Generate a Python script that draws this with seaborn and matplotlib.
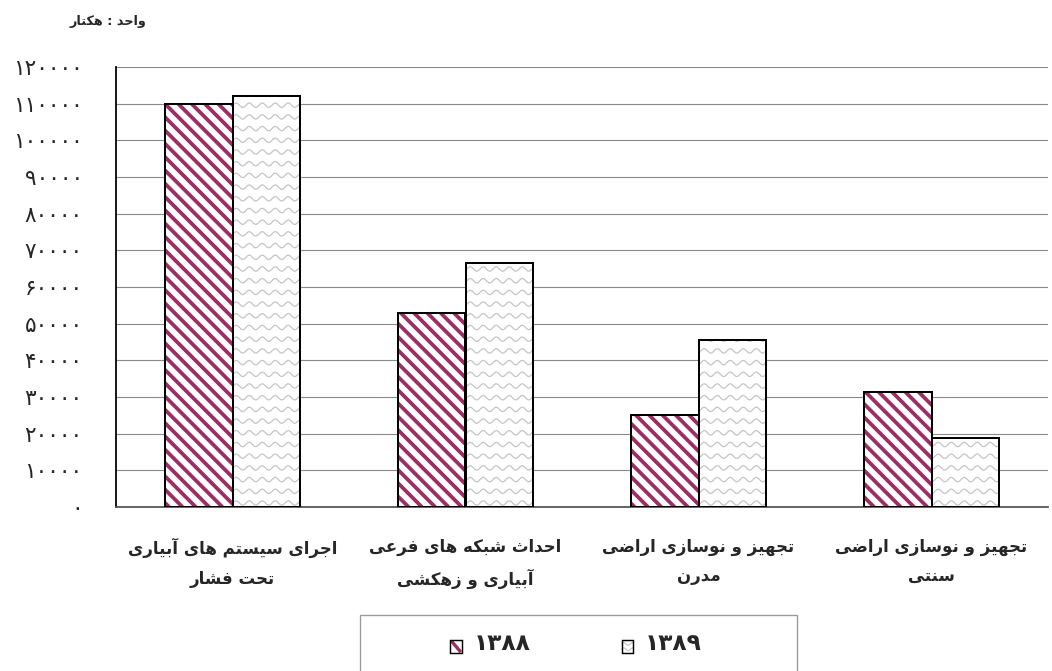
import numpy as np
import pandas as pd
import matplotlib
matplotlib.use("Agg")
import matplotlib.pyplot as plt
import seaborn as sns
from matplotlib.patches import Rectangle
from matplotlib.lines import Line2D
from matplotlib.collections import LineCollection
from matplotlib.legend_handler import HandlerBase

# ============================================================
# 데이터
# ============================================================
categories = [
    "اجرای سیستم های آبیاری\nتحت فشار",
    "احداث شبکه های فرعی\nآبیاری و زهکشی",
    "تجهیز و نوسازی اراضی\nمدرن",
    "تجهیز و نوسازی اراضی\nسنتی",
]
years = ["۱۳۸۸", "۱۳۸۹"]
values_1388 = [110000, 53000, 25000, 31400]
values_1389 = [112000, 66500, 45500, 18800]
y_ticks = list(range(0, 120001, 10000))
unit_label = "واحد : هکتار"

MAROON = "#9C2E64"
WAVE = "#C4C4C4"
DPI = 80

# ============================================================
# 아랍 문자 형태 변환 (matplotlib 은 shaping 을 하지 않음)
# ============================================================
FORMS = {
    "ا": ("\ufe8d", "\ufe8e"), "آ": ("\ufe81", "\ufe82"),
    "د": ("\ufea9", "\ufeaa"), "ر": ("\ufead", "\ufeae"),
    "ز": ("\ufeaf", "\ufeb0"), "و": ("\ufeed", "\ufeee"),
    "ب": ("\ufe8f", "\ufe90", "\ufe91", "\ufe92"),
    "ت": ("\ufe95", "\ufe96", "\ufe97", "\ufe98"),
    "ث": ("\ufe99", "\ufe9a", "\ufe9b", "\ufe9c"),
    "ج": ("\ufe9d", "\ufe9e", "\ufe9f", "\ufea0"),
    "ح": ("\ufea1", "\ufea2", "\ufea3", "\ufea4"),
    "س": ("\ufeb1", "\ufeb2", "\ufeb3", "\ufeb4"),
    "ش": ("\ufeb5", "\ufeb6", "\ufeb7", "\ufeb8"),
    "ض": ("\ufebd", "\ufebe", "\ufebf", "\ufec0"),
    "ع": ("\ufec9", "\ufeca", "\ufecb", "\ufecc"),
    "ف": ("\ufed1", "\ufed2", "\ufed3", "\ufed4"),
    "م": ("\ufee1", "\ufee2", "\ufee3", "\ufee4"),
    "ن": ("\ufee5", "\ufee6", "\ufee7", "\ufee8"),
    "ه": ("\ufee9", "\ufeea", "\ufeeb", "\ufeec"),
    "ک": ("\ufb8e", "\ufb8f", "\ufb90", "\ufb91"),
    "ی": ("\ufbfc", "\ufbfd", "\ufbfe", "\ufbff"),
}


def shape_line(s):
    out = []
    for i, ch in enumerate(s):
        if ch not in FORMS:
            out.append(ch)
            continue
        f = FORMS[ch]
        prev_j = i > 0 and s[i - 1] in FORMS and len(FORMS[s[i - 1]]) == 4
        next_j = len(f) == 4 and i < len(s) - 1 and s[i + 1] in FORMS
        if prev_j and next_j:
            out.append(f[3])
        elif prev_j:
            out.append(f[1])
        elif next_j:
            out.append(f[2])
        else:
            out.append(f[0])
    return "".join(out)[::-1]


def rtl(s):
    return "\n".join(shape_line(line) for line in s.split("\n"))


def fa_digits(n):
    return str(n).translate(str.maketrans("0123456789", "۰۱۲۳۴۵۶۷۸۹"))


# ============================================================
# 범례 핸들러
# ============================================================
class FillHandler(HandlerBase):
    def __init__(self, kind):
        super().__init__()
        self.kind = kind

    def create_artists(self, legend, orig, xd, yd, w, h, fontsize, trans):
        x0, y0 = xd, yd - 1
        arts = [Rectangle((x0, y0), w, h, facecolor="white", lw=0, transform=trans)]
        if self.kind == "hatch":
            arts.append(Line2D([x0 + 1, x0 + w - 1], [y0 + h - 1, y0 + 1], color=MAROON,
                               lw=3, solid_capstyle="butt", transform=trans))
        else:
            xs = np.linspace(x0, x0 + w, 40)
            for frac in (0.3, 0.7):
                ys = y0 + h * frac + 1.2 * np.sin(2 * np.pi * (xs - x0) / (w / 1.3))
                arts.append(Line2D(xs, ys, color=WAVE, lw=1, transform=trans))
        arts.append(Rectangle((x0, y0), w, h, fill=False, edgecolor="black", lw=1.3,
                              transform=trans))
        return arts


# ============================================================
# 그리기
# ============================================================
sns.set_style("white")
plt.rcParams["font.family"] = ["DejaVu Sans"]

df = pd.DataFrame({
    "category": categories * 2,
    "value": values_1388 + values_1389,
    "year": [years[0]] * 4 + [years[1]] * 4,
})

fig = plt.figure(figsize=(1052 / DPI, 671 / DPI), dpi=DPI)
ax = fig.add_axes([116 / 1052, 1 - 507 / 671, 932 / 1052, 440 / 671])

sns.barplot(data=df, x="category", y="value", hue="year", hue_order=years,
            width=0.58, gap=0, palette=["white", "white"], saturation=1,
            legend=False, ax=ax, zorder=2)

# 채움 무늬: 축 픽셀 단위로 그린 뒤 각 막대로 클리핑
ax_w, ax_h = 932.0, 440.0

# 1388: 사선 (\) 줄무늬
stripe_segs = []
step = 13.3
for k in range(int((ax_w + ax_h) / step) + 2):
    x_start = k * step - ax_h
    stripe_segs.append([(x_start / ax_w, 1.0), ((x_start + ax_h) / ax_w, 0.0)])

# 1389: 물결 무늬
xs = np.linspace(0, 1, 1200)
wave_segs = []
for k in range(int(ax_h / 11.7) + 2):
    ys = (k * 11.7 + 4 + 2.2 * np.sin(2 * np.pi * xs * ax_w / 13.0)) / ax_h
    wave_segs.append(np.column_stack([xs, ys]))

for cont, segs, color, lw in ((ax.containers[0], stripe_segs, MAROON, 3.4),
                              (ax.containers[1], wave_segs, WAVE, 1.1)):
    for p in cont:
        p.set_facecolor("white")
        p.set_linewidth(0)
        lc = LineCollection(segs, colors=color, linewidths=lw, transform=ax.transAxes,
                            zorder=2.5, capstyle="butt")
        ax.add_collection(lc)
        lc.set_clip_path(p)

# 검정 테두리
for cont in ax.containers:
    for p in cont:
        ax.add_patch(Rectangle(p.get_xy(), p.get_width(), p.get_height(), fill=False,
                               edgecolor="black", lw=1.8, zorder=3))

ax.set_xlim(-0.5, 3.5)
ax.set_ylim(0, 120000)
ax.set_yticks(y_ticks)
ax.set_yticklabels([fa_digits(v) for v in y_ticks], fontsize=19.5)
ax.yaxis.grid(True, color="#8A8A8A", lw=1)
ax.set_axisbelow(True)

ax.set_xticks(range(len(categories)))
ax.set_xticklabels([rtl(c) for c in categories], fontsize=15, fontweight="bold",
                   linespacing=1.8)
ax.set_xticks(np.arange(-0.5, len(categories)), minor=True)
ax.tick_params(axis="x", which="major", length=0, pad=28)
ax.tick_params(axis="x", which="minor", length=7, width=1.3, color="#7A7A7A", direction="out")
ax.tick_params(axis="y", length=8, width=1, color="#8A8A8A", direction="out", pad=22)
ax.set_xlabel("")
ax.set_ylabel("")

for side in ("top", "right"):
    ax.spines[side].set_visible(False)
ax.spines["left"].set_color("black")
ax.spines["left"].set_linewidth(1.6)
ax.spines["bottom"].set_color("#555555")
ax.spines["bottom"].set_linewidth(1.6)

fig.text(146 / 1052, 1 - 22 / 671, rtl(unit_label), ha="right", va="center",
         fontsize=11.5, fontweight="bold")

# 범례
fig.patches.append(Rectangle((360 / 1052, -0.01), 437 / 1052, (671 - 615) / 671 + 0.01,
                             transform=fig.transFigure, fill=False, edgecolor="#9A9A9A", lw=1.2))
h1 = Rectangle((0, 0), 1, 1)
h2 = Rectangle((0, 0), 1, 1)
fig.legend([h1, h2], years, loc="center",
           bbox_to_anchor=(576 / 1052, 1 - 644 / 671),
           ncol=2, frameon=False, handlelength=0.5, handleheight=0.5, handletextpad=0.5,
           columnspacing=3.9, prop={"weight": "bold", "size": 21},
           handler_map={h1: FillHandler("hatch"), h2: FillHandler("wave")})

fig.savefig("out.png", dpi=DPI)
